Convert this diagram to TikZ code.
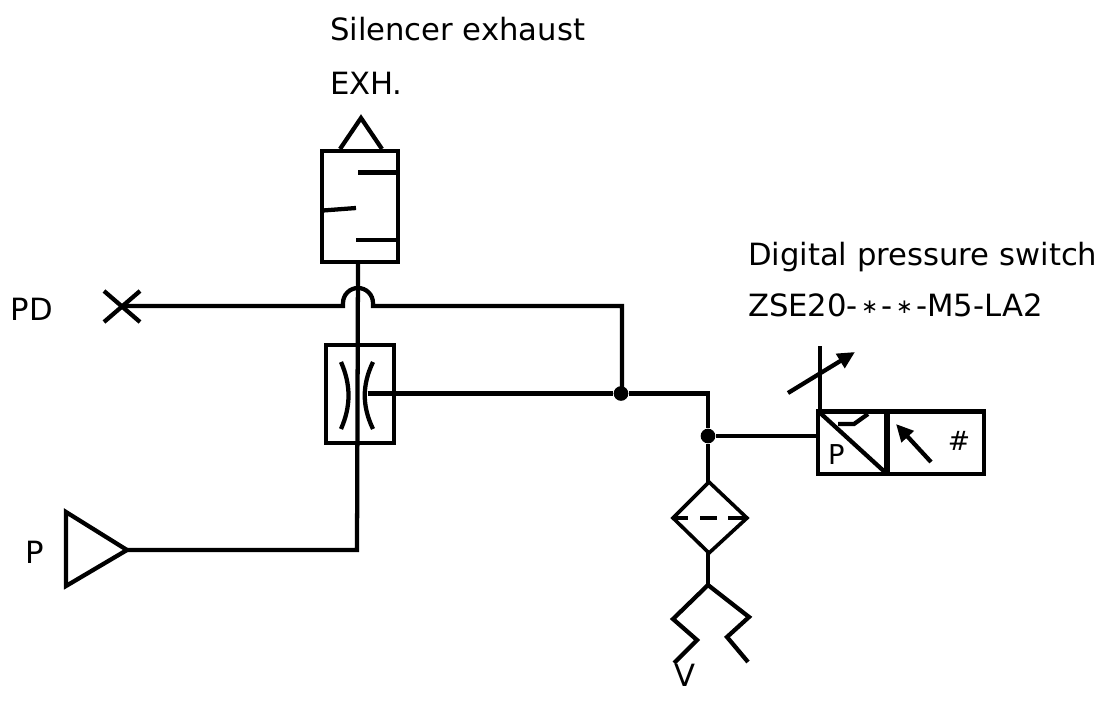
\documentclass[tikz,border=0pt]{standalone}
\usepackage{fontspec}
\setmainfont{DejaVu Sans}
\usetikzlibrary{arrows.meta}
\newcommand{\smast}{\hspace{2.6pt}{\fontsize{15pt}{18pt}\selectfont\raisebox{0.25ex}{∗}}\hspace{2.6pt}}
\tikzset{
  x=0.75pt,y=-0.75pt,
  pipe/.style={line width=3.2pt,line cap=butt,line join=miter,black},
  thin pipe/.style={line width=2.7pt,black},
  lbl/.style={anchor=base west,inner sep=0pt,outer sep=0pt,font=\fontsize{23pt}{26pt}\selectfont},
  dot/.style={circle,fill=black,inner sep=0pt,minimum size=11pt},
  tip/.style={-{Triangle[length=13pt,width=12pt]}}
}
\begin{document}
\begin{tikzpicture}
\useasboundingbox (0,0) rectangle (1105,713);
% connection points
\coordinate (stemTop) at (358,262);
\coordinate (stemBot) at (357,550);
\coordinate (pApex) at (127,550);
\coordinate (crossC) at (121,306);
\coordinate (corner) at (622,306);
\coordinate (venturi) at (368,393.5);
\node[dot] (j1) at (621,393.5) {};
\node[dot] (j2) at (708,436) {};
\coordinate (turn) at (708,393.5);
\coordinate (dSw) at (818,436);
\coordinate (filTop) at (708,482);
\coordinate (filBot) at (708,553);
\coordinate (ejFork) at (708,585);
% silencer and valve
\draw[pipe] (340,149) -- (361,118) -- (382,149);
\draw[pipe] (322,151) rectangle (398,262);
\draw[pipe] (358,172.5) -- (398,172.5);
\draw[pipe] (323,210.5) -- (356,208);
\draw[pipe] (356,240) -- (398,240);
% main vertical line
\draw[pipe] (stemTop) -- (stemBot) -- (pApex);
% bridge crossing
\draw[pipe] (crossC) -- (343,306) -- (343,303) arc[start angle=180,end angle=0,radius=11.25pt] -- (373,306) -- (corner) -- (corner |- j1);
% cross
\draw[pipe] (104,291) -- (140,322);
\draw[pipe] (104,322) -- (140,291);
% venturi box
\draw[pipe] (326,345) rectangle (394,443);
\draw[pipe] (341,362) .. controls (351,385) and (351,406) .. (341,429);
\draw[pipe] (373,362) .. controls (362,385) and (362,406) .. (373,429);
\draw[pipe] (venturi) -- (j1) -- (turn) -- (j2) -- (filTop);
\draw[pipe] (j2) -- (dSw);
% supply triangle
\draw[pipe] (66,512) -- (127,550) -- (66,586) -- cycle;
% filter
\draw[thin pipe] (709,482) -- (747,518) -- (709,553) -- (673,518) -- cycle;
\draw[pipe,line width=3.4pt] (673,518) -- (688,518) (700,518) -- (717,518) (728,518) -- (747,518);
\draw[pipe] (filBot) -- (ejFork);
\draw[pipe] (ejFork) -- (673,619) -- (697,640) -- (674,663);
\draw[pipe] (ejFork) -- (749,617) -- (727,637) -- (748,662);
% switch
\draw[pipe] (818,411.5) rectangle (984,474);
\draw[pipe,line width=4.5pt] (887,411) -- (887,475);
\draw[pipe] (818,411) -- (887,474);
\draw[pipe] (820,346) -- (820,411);
\draw[pipe,tip] (788,393) -- (855,352);
\draw[pipe] (838,424) -- (854,424) -- (868,414);
\draw[pipe,tip] (931,462) -- (896,424);
\node[lbl,font=\fontsize{20.5pt}{22pt}\selectfont] (pIn) at (828,464) {P};
\node[anchor=base,inner sep=0pt,font=\fontsize{20pt}{22pt}\selectfont] (hash) at (959,450) {\#};
% labels
\node[lbl] (t1) at (330,41) {Silencer exhaust};
\node[lbl] (t2) at (330,95) {EXH.};
\node[lbl] (t3) at (748,265) {Digital pressure switch};
\node[lbl] (t4) at (748,316) {ZSE20-\smast-\smast-M5-LA2};
\node[lbl] (t5) at (11,320) {PD};
\node[lbl] (t6) at (25,563) {P};
\node[lbl] (t7) at (674,686) {V};
\end{tikzpicture}
\end{document}
